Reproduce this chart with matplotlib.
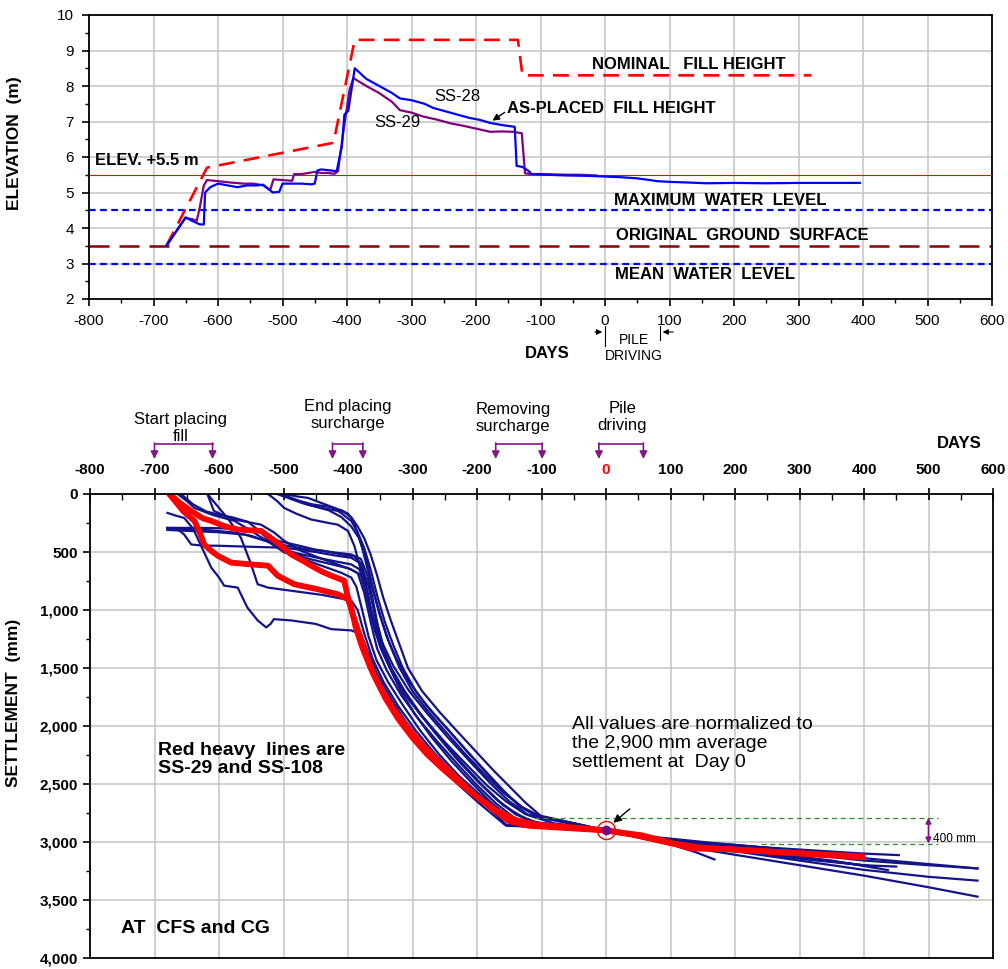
import matplotlib
matplotlib.use("Agg")
import matplotlib.pyplot as plt
import matplotlib.transforms as mtransforms
import numpy as np
from matplotlib.ticker import MultipleLocator, FuncFormatter

plt.rcParams['font.family'] = ['Liberation Sans', 'DejaVu Sans']
plt.rcParams['axes.unicode_minus'] = False

W, H = 1008, 969

# --- top panel: elevation history
nominal_days = [-680, -617, -421, -388, -135, -128, 320]
nominal_elev = [3.5, 5.7, 6.4, 9.3, 9.3, 8.3, 8.3]

ss28_days = [-680, -665, -650, -640, -628, -622, -620, -612, -600, -585, -570, -555, -540, -530,
             -522, -515, -505, -500, -485, -470, -455, -450, -446, -440, -425, -416, -408, -404,
             -398, -388, -370, -350, -330, -318, -300, -280, -266, -250, -230, -210, -195, -178,
             -160, -140, -137, -128, -118, -114, -90, -60, -30, 0, 25, 49, 70, 80, 100, 130, 158,
             200, 250, 300, 350, 395]
ss28_elev = [3.5, 3.9, 4.3, 4.2, 4.1, 4.1, 5.0, 5.15, 5.25, 5.2, 5.15, 5.2, 5.2, 5.22,
             5.1, 5.0, 5.02, 5.25, 5.25, 5.25, 5.23, 5.25, 5.62, 5.65, 5.62, 5.6, 6.3, 7.2,
             7.3, 8.5, 8.2, 8.0, 7.8, 7.65, 7.6, 7.5, 7.38, 7.3, 7.2, 7.1, 7.05, 6.96,
             6.9, 6.85, 5.75, 5.72, 5.6, 5.52, 5.5, 5.48, 5.47, 5.45, 5.43, 5.4, 5.35, 5.32, 5.3,
             5.28, 5.26, 5.27, 5.26, 5.27, 5.27, 5.27]

ss29_days = [-680, -665, -651, -640, -633, -628, -622, -617, -600, -580, -560, -545, -530, -519,
             -514, -500, -485, -482, -470, -460, -450, -440, -430, -419, -414, -405, -396, -390,
             -370, -350, -330, -318, -300, -282, -260, -240, -220, -200, -178, -160, -142, -129,
             -124, -115, -100, -80, -60, -40, -13]
ss29_elev = [3.5, 3.9, 4.28, 4.25, 4.2, 4.6, 5.2, 5.35, 5.32, 5.28, 5.25, 5.25, 5.2, 5.07,
             5.37, 5.35, 5.33, 5.52, 5.52, 5.55, 5.58, 5.55, 5.55, 5.53, 5.6, 6.8, 7.9, 8.22,
             8.0, 7.8, 7.55, 7.32, 7.25, 7.14, 7.05, 6.95, 6.88, 6.8, 6.71, 6.72, 6.71, 6.67,
             5.54, 5.52, 5.52, 5.51, 5.5, 5.5, 5.48]

elev_ref = 5.5
max_water = 4.5
ground_surface = 3.5
mean_water = 3.0

# --- bottom panel: settlement (day, mm)
red_ss29 = [(-677, 0), (-660, 80), (-643, 146), (-625, 210), (-612, 232), (-590, 280), (-571, 306),
            (-535, 318), (-524, 361), (-505, 440), (-488, 521), (-470, 575), (-457, 618), (-440, 670),
            (-426, 704), (-406, 747), (-400, 893), (-392, 1050), (-385, 1167), (-372, 1380),
            (-360, 1560), (-342, 1760), (-322, 1940), (-300, 2100), (-278, 2240), (-255, 2360),
            (-230, 2480), (-200, 2610), (-170, 2730), (-140, 2810), (-110, 2850), (-60, 2870),
            (0, 2900), (30, 2925), (54, 2941), (90, 2990), (132, 3056), (180, 3060), (235, 3076),
            (290, 3095), (338, 3113), (370, 3120), (398, 3133)]
red_ss108 = [(-677, 0), (-655, 150), (-638, 232), (-630, 330), (-623, 435), (-612, 490), (-602, 532),
             (-581, 592), (-550, 607), (-524, 618), (-509, 704), (-495, 745), (-483, 778), (-465, 800),
             (-447, 821), (-430, 845), (-416, 864), (-400, 907), (-395, 980), (-388, 1150),
             (-378, 1320), (-365, 1500), (-350, 1670), (-330, 1850), (-310, 2000), (-285, 2160),
             (-260, 2300), (-235, 2430), (-205, 2590), (-175, 2720), (-150, 2820), (-120, 2860),
             (-60, 2880), (0, 2900), (40, 2935), (100, 3010), (150, 3050), (250, 3082), (350, 3112),
             (398, 3125)]

ss_a = [(-680, 163), (-665, 190), (-654, 206), (-640, 300), (-625, 480), (-612, 635), (-600, 720),
        (-592, 790), (-571, 807), (-556, 979), (-540, 1090), (-527, 1150), (-520, 1120), (-515, 1079),
        (-500, 1085), (-488, 1090), (-450, 1120), (-426, 1165), (-395, 1176), (-380, 1208),
        (-370, 1350), (-355, 1550), (-335, 1750), (-312, 1950), (-285, 2150), (-258, 2340),
        (-228, 2510), (-198, 2660), (-170, 2790), (-155, 2860), (-100, 2870), (-50, 2880),
        (0, 2900), (50, 2960), (100, 3020), (140, 3090), (168, 3150)]
ss_b = [(-680, 292), (-633, 292), (-600, 295), (-550, 306), (-530, 340), (-509, 403), (-480, 440),
        (-450, 480), (-420, 505), (-395, 521), (-380, 560), (-370, 700), (-362, 900), (-355, 1100),
        (-345, 1320), (-333, 1500), (-312, 1700), (-287, 1900), (-258, 2100), (-228, 2300),
        (-198, 2480), (-168, 2640), (-140, 2760), (-110, 2830), (-60, 2870), (0, 2900), (60, 2950),
        (120, 2995), (200, 3030), (300, 3065), (400, 3100), (454, 3113)]
ss_c = [(-680, 292), (-665, 300), (-654, 349), (-643, 435), (-625, 445), (-602, 446), (-550, 455),
        (-499, 463), (-450, 500), (-420, 530), (-395, 550), (-380, 600), (-368, 800), (-358, 1050),
        (-348, 1300), (-335, 1500), (-318, 1700), (-296, 1900), (-270, 2100), (-240, 2300),
        (-210, 2480), (-180, 2650), (-150, 2790), (-135, 2850), (-100, 2860), (-50, 2880), (0, 2900),
        (80, 2980), (150, 3040), (250, 3095), (350, 3160), (437, 3242)]
ss_d = [(-680, 300), (-660, 300), (-620, 310), (-580, 330), (-550, 360), (-520, 420), (-490, 500),
        (-460, 560), (-430, 600), (-400, 640), (-385, 680), (-375, 850), (-365, 1100), (-355, 1330),
        (-340, 1520), (-318, 1730), (-292, 1930), (-262, 2130), (-230, 2330), (-200, 2510),
        (-170, 2670), (-140, 2800), (-100, 2860), (0, 2900), (100, 2990), (200, 3050), (300, 3100),
        (400, 3160), (500, 3200), (576, 3228)]
ss_e = [(-664, 0), (-650, 60), (-638, 120), (-610, 180), (-576, 232), (-550, 318), (-530, 390),
        (-509, 463), (-480, 510), (-447, 550), (-420, 580), (-395, 607), (-382, 650), (-372, 850),
        (-362, 1100), (-350, 1320), (-335, 1500), (-312, 1720), (-285, 1920), (-255, 2120),
        (-222, 2330), (-190, 2520), (-160, 2680), (-125, 2800), (-90, 2860), (0, 2900), (100, 3000),
        (200, 3060), (300, 3130), (405, 3205)]
ss_f = [(-618, 0), (-608, 146), (-590, 190), (-576, 220), (-535, 264), (-515, 330), (-499, 403),
        (-473, 489), (-440, 560), (-410, 620), (-395, 650), (-380, 700), (-370, 880), (-360, 1080),
        (-347, 1280), (-330, 1480), (-305, 1700), (-276, 1900), (-245, 2100), (-212, 2300),
        (-180, 2490), (-150, 2650), (-120, 2770), (-80, 2840), (0, 2900), (80, 2960), (160, 3005),
        (250, 3050), (330, 3090)]
ss_g = [(-618, 0), (-600, 120), (-587, 206), (-575, 300), (-566, 378), (-552, 580), (-540, 778),
        (-524, 807), (-480, 840), (-440, 870), (-395, 918), (-385, 1000), (-375, 1200), (-362, 1420),
        (-345, 1620), (-322, 1830), (-295, 2040), (-265, 2240), (-235, 2420), (-205, 2580),
        (-175, 2740), (-155, 2850), (-120, 2870), (0, 2900), (100, 3000), (200, 3075), (300, 3135),
        (420, 3215)]
ss_h = [(-524, 0), (-510, 60), (-499, 120), (-480, 170), (-457, 220), (-430, 250), (-416, 264),
        (-400, 318), (-390, 450), (-378, 700), (-368, 950), (-358, 1180), (-345, 1380), (-328, 1580),
        (-305, 1780), (-278, 1960), (-248, 2150), (-215, 2340), (-185, 2510), (-155, 2650),
        (-125, 2760), (-100, 2790), (-50, 2840), (0, 2900), (100, 2985), (200, 3035), (300, 3085),
        (420, 3150), (576, 3228)]
ss_i = [(-504, 0), (-480, 50), (-462, 92), (-440, 120), (-416, 146), (-411, 163), (-395, 232),
        (-385, 330), (-375, 463), (-365, 650), (-354, 893), (-343, 1100), (-330, 1300), (-315, 1500),
        (-295, 1700), (-270, 1880), (-245, 2030), (-215, 2220), (-185, 2400), (-160, 2550),
        (-135, 2690), (-110, 2770), (-100, 2790), (-50, 2840), (0, 2900), (100, 3010), (200, 3080),
        (300, 3160), (400, 3240), (500, 3300), (576, 3333)]
ss_j = [(-499, 0), (-480, 20), (-462, 34), (-440, 80), (-421, 120), (-405, 160), (-395, 200),
        (-385, 280), (-375, 380), (-365, 520), (-355, 700), (-345, 900), (-333, 1100), (-320, 1300),
        (-307, 1500), (-285, 1700), (-258, 1880), (-230, 2050), (-200, 2230), (-175, 2380),
        (-150, 2520), (-125, 2660), (-100, 2780), (-50, 2840), (0, 2900), (100, 3020), (200, 3110),
        (300, 3200), (400, 3290), (500, 3390), (576, 3471)]
ss_k = [(-500, 0), (-490, 40), (-470, 80), (-450, 110), (-430, 140), (-410, 200), (-395, 280),
        (-383, 380), (-372, 560), (-362, 800), (-352, 1020), (-340, 1230), (-325, 1420), (-305, 1620),
        (-280, 1810), (-250, 2000), (-220, 2190), (-190, 2380), (-160, 2560), (-130, 2700),
        (-100, 2790), (-50, 2850), (0, 2900), (60, 2960), (130, 3010)]
ss_l = [(-680, 310), (-640, 320), (-600, 330), (-560, 350), (-530, 400), (-500, 440), (-470, 470),
        (-440, 490), (-410, 520), (-390, 540), (-380, 600), (-372, 780), (-364, 1000), (-352, 1250),
        (-338, 1450), (-318, 1660), (-292, 1870), (-262, 2080), (-232, 2280), (-200, 2470),
        (-170, 2630), (-140, 2760), (-110, 2830), (-60, 2860), (0, 2900), (100, 2995), (200, 3075),
        (300, 3145), (400, 3200), (450, 3212)]
ss_m = [(-659, 0), (-640, 90), (-620, 150), (-600, 180), (-580, 200), (-555, 240), (-535, 330),
        (-520, 420), (-500, 500), (-470, 560), (-440, 620), (-410, 680), (-395, 720), (-387, 800),
        (-378, 1000), (-368, 1230), (-356, 1430), (-338, 1620), (-315, 1820), (-288, 2040),
        (-258, 2250), (-228, 2430), (-198, 2580), (-168, 2720), (-140, 2810), (-110, 2850),
        (-60, 2870), (0, 2900), (50, 2950), (120, 2995), (200, 3025), (280, 3065)]
ss_n = [(-510, 0), (-495, 30), (-475, 60), (-455, 90), (-430, 110), (-410, 140), (-400, 170),
        (-392, 230), (-380, 420), (-370, 640), (-360, 860), (-348, 1080), (-335, 1300), (-320, 1500),
        (-300, 1700), (-275, 1880), (-250, 2040), (-220, 2230), (-190, 2410), (-160, 2570),
        (-130, 2700), (-105, 2770), (-80, 2800), (0, 2900), (80, 2965), (160, 3010), (240, 3050),
        (330, 3095)]
navy_curves = [ss_a, ss_b, ss_c, ss_d, ss_e, ss_f, ss_g, ss_h, ss_i, ss_j, ss_k, ss_l, ss_m, ss_n]
red_curves = [red_ss29, red_ss108]

x_ticks = list(range(-800, 601, 100))

# construction stages: label, arrow start, arrow end, label centre, label height (px)
stage_labels = ['Start placing\nfill', 'End placing\nsurcharge', 'Removing\nsurcharge', 'Pile\ndriving']
stage_start = [-700, -424, -171, -11]
stage_end = [-610, -377, -99, 58]
stage_centre = [-660, -401, -144, 25]
stage_text_py = [428, 415, 418, 417]

NAVY = '#14148a'
PURPLE = '#84148a'
GRID = '#c8c8c8'


def fx(px):
    return px / W


def fy(py):
    return 1 - py / H


def style_spines(ax):
    for sp in ax.spines.values():
        sp.set_linewidth(1.3)
        sp.set_color('black')


def draw_elevation(ax):
    ax.set_xlim(-800, 600)
    ax.set_ylim(2, 10)
    ax.xaxis.set_major_locator(MultipleLocator(100))
    ax.xaxis.set_minor_locator(MultipleLocator(50))
    ax.yaxis.set_major_locator(MultipleLocator(1))
    ax.yaxis.set_minor_locator(MultipleLocator(0.5))
    ax.grid(True, which='major', color=GRID, lw=1.2)
    ax.set_axisbelow(True)
    ax.tick_params(which='major', direction='out', length=5, width=1.2, labelsize=11, pad=6)
    ax.tick_params(which='minor', direction='out', length=3, width=1.0)
    style_spines(ax)
    ax.set_ylabel('ELEVATION  (m)', fontsize=12.5, fontweight='bold')
    ax.yaxis.set_label_coords(-0.074, 0.55)

    # reference levels
    ax.axhline(elev_ref, color='red', lw=0.8)
    ax.axhline(max_water, color='#0000ff', lw=1.6, dashes=(3, 2))
    ax.axhline(mean_water, color='#0000ff', lw=1.6, dashes=(3, 2))
    ax.axhline(ground_surface, color='#8b0000', lw=1.8, dashes=(8, 4))

    ax.plot(nominal_days, nominal_elev, color='red', lw=1.9, dashes=(6, 3.5))
    ax.plot(ss29_days, ss29_elev, color='#800080', lw=1.6)
    ax.plot(ss28_days, ss28_elev, color='#0000ff', lw=1.6)

    bold = dict(fontsize=12, fontweight='bold', va='center')
    ax.text(-790, 5.9, 'ELEV. +5.5 m', **bold)
    ax.text(-20, 8.6, 'NOMINAL   FILL HEIGHT', **bold)
    ax.text(-152, 7.36, 'AS-PLACED  FILL HEIGHT', **bold)
    ax.text(14, 4.78, 'MAXIMUM  WATER  LEVEL', **bold)
    ax.text(17, 3.8, 'ORIGINAL  GROUND  SURFACE', **bold)
    ax.text(16, 2.68, 'MEAN  WATER  LEVEL', **bold)
    ax.text(-265, 7.7, 'SS-28', fontsize=12, va='center')
    ax.text(-357, 6.98, 'SS-29', fontsize=12, va='center')
    ax.annotate('', xy=(-178, 6.98), xytext=(-152, 7.3),
                arrowprops=dict(arrowstyle='-|>', color='black', lw=1, mutation_scale=10))

    # pile driving markers under the axis
    tr = mtransforms.blended_transform_factory(ax.transData, ax.figure.transFigure)
    ax.annotate('', xy=(0, fy(332)), xytext=(-20, fy(332)), xycoords=tr,
                arrowprops=dict(arrowstyle='-|>', color='black', lw=0.8, mutation_scale=8))
    ax.annotate('', xy=(85, fy(332)), xytext=(110, fy(332)), xycoords=tr,
                arrowprops=dict(arrowstyle='-|>', color='black', lw=0.8, mutation_scale=8))
    ax.plot([0, 0], [fy(326), fy(346)], color='black', lw=0.8, clip_on=False, transform=tr)
    ax.plot([85, 85], [fy(326), fy(340)], color='black', lw=0.8, clip_on=False, transform=tr)


def draw_settlement(ax):
    ax.set_xlim(-800, 600)
    ax.set_ylim(4000, 0)
    ax.xaxis.tick_top()
    ax.set_xticks(x_ticks)
    ax.set_xticklabels([str(t) for t in x_ticks])
    ax.xaxis.set_minor_locator(MultipleLocator(50))
    ax.yaxis.set_major_locator(MultipleLocator(500))
    ax.yaxis.set_minor_locator(MultipleLocator(250))
    ax.yaxis.set_major_formatter(FuncFormatter(lambda v, p: f'{int(v):,}'))
    ax.grid(True, which='major', color=GRID, lw=1.2)
    ax.set_axisbelow(True)
    ax.tick_params(axis='x', which='major', direction='inout', length=8, width=1.2, pad=8)
    ax.tick_params(axis='x', which='minor', direction='in', length=4, width=1.0)
    ax.tick_params(axis='y', which='major', direction='out', length=5, width=1.2)
    ax.tick_params(axis='y', which='minor', direction='out', length=3, width=1.0)
    for lab in ax.get_xticklabels() + ax.get_yticklabels():
        lab.set_fontweight('bold')
        lab.set_fontsize(11)
    for lab, t in zip(ax.get_xticklabels(), x_ticks):
        if t == 0:
            lab.set_color('red')
    style_spines(ax)
    ax.set_ylabel('SETTLEMENT  (mm)', fontsize=12.5, fontweight='bold')
    ax.yaxis.set_label_coords(-0.076, 0.55)

    for curve in navy_curves:
        d, s = np.array(curve).T
        ax.plot(d, s, color=NAVY, lw=1.6)
    for curve in red_curves:
        d, s = np.array(curve).T
        ax.plot(d, s, color='red', lw=4.2, solid_capstyle='round')

    # 400 mm band
    ax.plot([-111, 514], [2790, 2790], color='#2e8b2e', lw=0.9, dashes=(4, 3))
    ax.plot([240, 514], [3013, 3013], color='#2e8b2e', lw=0.9, dashes=(4, 3))
    ax.annotate('', xy=(500, 2790), xytext=(500, 3013),
                arrowprops=dict(arrowstyle='<|-|>', color=PURPLE, lw=1.2, mutation_scale=8,
                                shrinkA=0, shrinkB=0))
    ax.text(507, 2970, '400 mm', fontsize=8.5, va='center')

    ax.plot([0], [2900], 'o', ms=13, mfc='none', mec='red', mew=1)
    ax.plot([0], [2900], 'o', ms=6, color='#800080')
    ax.annotate('', xy=(8, 2850), xytext=(40, 2700),
                arrowprops=dict(arrowstyle='-|>', color='black', lw=1, mutation_scale=12))
    ax.text(-52, 2150, 'All values are normalized to\nthe 2,900 mm average\nsettlement at  Day 0',
            fontsize=14, va='center', linespacing=1.15)
    ax.text(-695, 2290, 'Red heavy  lines are\nSS-29 and SS-108', fontsize=14, fontweight='bold',
            va='center', linespacing=1.1)
    ax.text(-752, 3745, 'AT  CFS and CG', fontsize=14, fontweight='bold', va='center')

    # construction stages above the axis
    tr = mtransforms.blended_transform_factory(ax.transData, ax.figure.transFigure)
    for label, d0, d1, dc, ty in zip(stage_labels, stage_start, stage_end, stage_centre, stage_text_py):
        ax.plot([d0, d1], [fy(444), fy(444)], color=PURPLE, lw=1.2, clip_on=False, transform=tr)
        for d in (d0, d1):
            ax.annotate('', xy=(d, fy(459)), xytext=(d, fy(443)), xycoords=tr,
                        arrowprops=dict(arrowstyle='-|>', color=PURPLE, lw=1.2, mutation_scale=11,
                                        shrinkA=0, shrinkB=0))
        ax.text(dc, fy(ty), label, transform=tr, fontsize=12, ha='center', va='center',
                linespacing=1.1)


def main():
    fig = plt.figure(figsize=(W / 100, H / 100), dpi=100)
    ax_top = fig.add_axes([fx(89), fy(299), fx(992) - fx(89), fy(15) - fy(299)])
    ax_bot = fig.add_axes([fx(90), fy(958), fx(993) - fx(90), fy(494) - fy(958)])
    draw_elevation(ax_top)
    draw_settlement(ax_bot)

    fig.text(fx(547), fy(354), 'DAYS', fontsize=12, fontweight='bold', ha='center', va='center')
    fig.text(fx(634), fy(348), 'PILE\nDRIVING', fontsize=10, ha='center', va='center', linespacing=1.1)
    fig.text(fx(959), fy(443), 'DAYS', fontsize=12, fontweight='bold', ha='center', va='center')

    fig.savefig('out.png', dpi=100)


if __name__ == '__main__':
    main()
